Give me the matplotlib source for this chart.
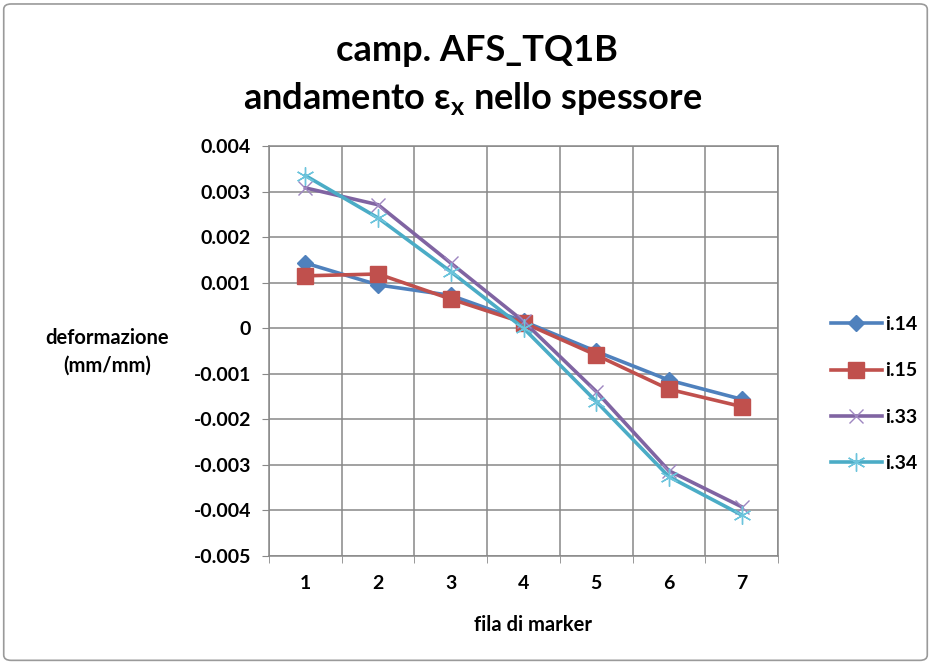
import matplotlib.pyplot as plt
from matplotlib.patches import FancyBboxPatch
import numpy as np

plt.rcParams['font.family'] = ['Lato', 'DejaVu Sans']
plt.rcParams['mathtext.fontset'] = 'custom'
plt.rcParams['mathtext.rm'] = 'Lato'
plt.rcParams['mathtext.bf'] = 'Lato:bold'

# data
rows = [1, 2, 3, 4, 5, 6, 7]
i14 = [0.00143, 0.00095, 0.00072, 0.00015, -0.00051, -0.00114, -0.00156]
i15 = [0.00115, 0.00119, 0.00064, 0.00012, -0.00059, -0.00134, -0.00172]
i33 = [0.00308, 0.00271, 0.00143, 0.00015, -0.00139, -0.00313, -0.00392]
i34 = [0.00335, 0.00242, 0.00124, 0.00000, -0.00161, -0.00326, -0.00410]
y_ticks = [0.004, 0.003, 0.002, 0.001, 0, -0.001, -0.002, -0.003, -0.004, -0.005]
y_labels = ['0.004', '0.003', '0.002', '0.001', '0', '-0.001', '-0.002',
            '-0.003', '-0.004', '-0.005']

fig = plt.figure(figsize=(9.31, 6.63), dpi=100)
ax = fig.add_axes([0.289, 0.1614, 0.8357 - 0.289, 0.7798 - 0.1614])

# chart border
fig.patches.append(FancyBboxPatch((0.004, 0.004), 0.992, 0.99,
                                  boxstyle="round,pad=0,rounding_size=0.008",
                                  transform=fig.transFigure, facecolor='none',
                                  edgecolor='#9a9a9a', linewidth=1.2))

grid_c = '#888888'
lw = 2.6
fs = 14
ax.plot(rows, i14, color='#4F81BD', lw=lw, marker='D', ms=8.5, label='i.14', zorder=3)
ax.plot(rows, i15, color='#C0504D', lw=lw, marker='s', ms=12, label='i.15', zorder=4)
ax.plot(rows, i33, color='#8064A2', lw=lw, marker='x', ms=10.5, mew=1.0,
        mec='#9e86c0', label='i.33', zorder=5)
ax.plot(rows, i34, color='#4BACC6', lw=lw, marker=(6, 2, 0), ms=13, mew=1.0,
        mec='#6cc4dc', label='i.34', zorder=6)

ax.set_xlim(0.5, 7.5)
ax.set_ylim(-0.005, 0.004)
ax.set_yticks(y_ticks)
ax.set_yticklabels(y_labels)
ax.set_xticks(rows)
ax.set_xticks(np.arange(0.5, 8.0, 1.0), minor=True)
ax.tick_params(axis='x', which='major', length=0, pad=14)
ax.tick_params(axis='x', which='minor', length=5, color=grid_c)
ax.tick_params(axis='y', which='major', length=5, color=grid_c, pad=8)
for lab in ax.get_xticklabels() + ax.get_yticklabels():
    lab.set_fontweight('bold')
    lab.set_fontsize(fs)

ax.grid(True, axis='y', which='major', color=grid_c, lw=1.1)
ax.grid(True, axis='x', which='minor', color=grid_c, lw=1.1)
for s in ax.spines.values():
    s.set_color(grid_c)
    s.set_linewidth(1.1)

fig.text(0.512, 0.924, 'camp. AFS_TQ1B', ha='center', va='center',
         fontsize=26, fontweight='bold')
fig.text(0.508, 0.852, r'andamento ε$_{\mathbf{x}}$ nello spessore', ha='center',
         va='center', fontsize=26, fontweight='bold')
fig.text(0.115, 0.469, 'deformazione\n(mm/mm)', ha='center', va='center',
         fontsize=fs + 0.5, fontweight='bold', linespacing=1.45)
fig.text(0.573, 0.057, 'fila di marker', ha='center', va='center',
         fontsize=fs + 0.5, fontweight='bold')

leg = ax.legend(loc='center left', bbox_to_anchor=(1.07, 0.395), frameon=False,
                labelspacing=1.5, handlelength=2.6, handletextpad=0.15,
                prop={'weight': 'bold', 'size': fs})

fig.savefig('out.png', dpi=100)
